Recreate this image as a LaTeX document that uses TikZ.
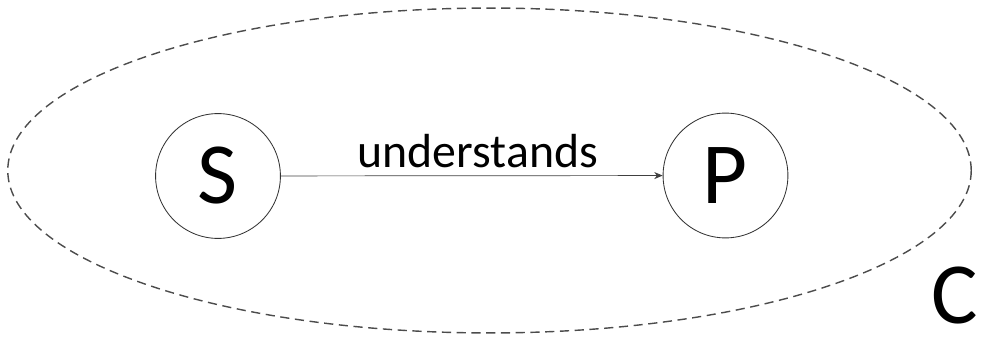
\documentclass[tikz,border=0pt]{standalone}
\usepackage{fontspec}
\setmainfont{Carlito}
\usetikzlibrary{shapes.geometric,arrows.meta}
\tikzset{
  entity/.style={circle,draw=black!80,line width=0.6pt,minimum size=3.12cm,inner sep=0pt,font=\fontsize{62}{62}\selectfont},
  relation/.style={draw=black!75,line width=0.5pt,-{Stealth[length=6pt,width=5pt]}}
}
\begin{document}
\begin{tikzpicture}[x=0.025cm,y=-0.025cm]
\useasboundingbox (0,0) rectangle (988,346);
\node[ellipse,draw=black!70,line width=1pt,dash pattern=on 6.5pt off 4pt,minimum width=24.08cm,minimum height=8.12cm,inner sep=0pt] (ctx) at (489.5,170.5) {};
\node[entity] (s) at (218,176) {S};
\node[entity] (p) at (725.5,175.5) {P};
\draw[relation] (s) -- node[above=2pt,xshift=0.15cm,font=\fontsize{34}{34}\selectfont] (lbl) {understands} (p);
\node[font=\fontsize{62}{62}\selectfont] (c) at (955,296) {C};
\end{tikzpicture}
\end{document}
